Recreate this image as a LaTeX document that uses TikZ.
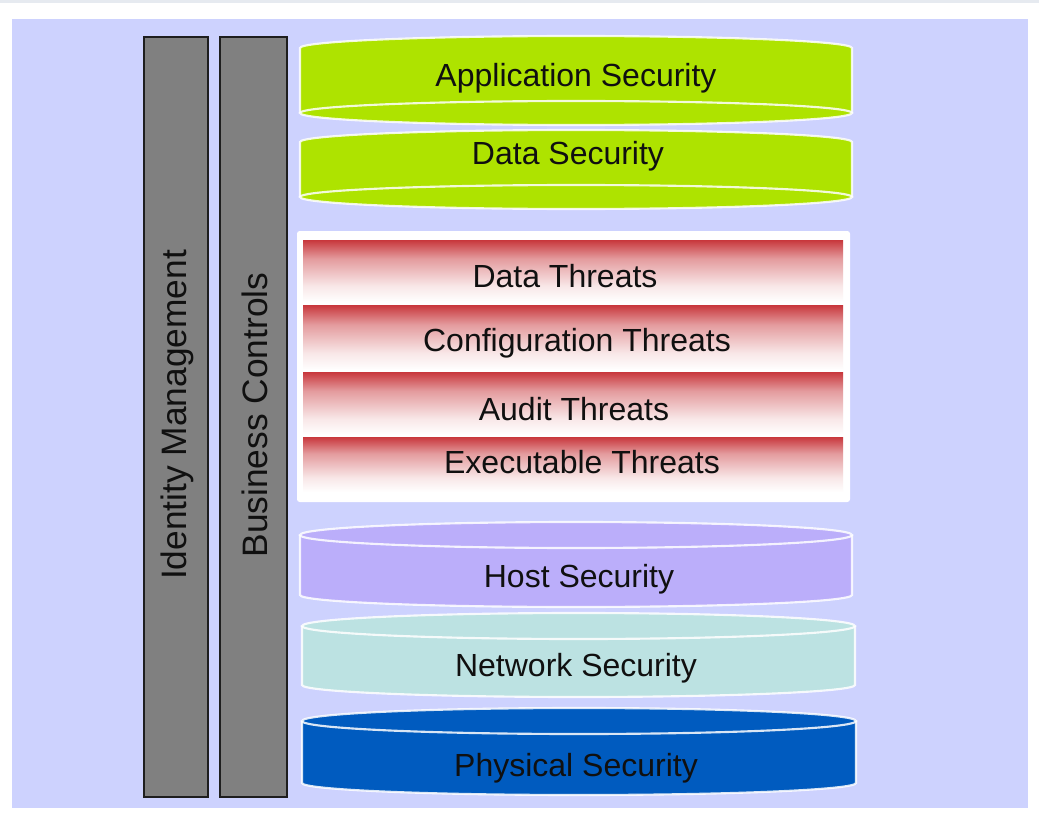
\documentclass[tikz,border=0pt]{standalone}
\usepackage{fontspec}
\setmainfont{Liberation Sans}
\definecolor{lav}{HTML}{CDD2FE}
\definecolor{topstrip}{HTML}{E6EAF0}
\definecolor{grn}{HTML}{AEE300}
\definecolor{hostc}{HTML}{BBAEFA}
\definecolor{netc}{HTML}{BCE2E2}
\definecolor{physc}{HTML}{005BBF}
\definecolor{barc}{HTML}{808080}
\definecolor{barline}{HTML}{1E1E1E}
\definecolor{thr}{RGB}{200,55,60}
\colorlet{thrA}{thr!12!white}
\colorlet{thrB}{thr!50!white}
\definecolor{txt}{HTML}{101010}
\pgfdeclareverticalshading{threatshade}{100bp}{color(0bp)=(white); color(25bp)=(white); color(38bp)=(thrA); color(60bp)=(thrB); color(75bp)=(thr); color(100bp)=(thr)}
% cylinder seen from below: #1 colour, #2 left, #3 right, #4 top centre y, #5 bottom centre y
\newcommand\cylbelow[5]{%
  \pgfmathsetmacro\crx{(#3-#2)/2}%
  \fill[#1] (#2,#4) arc[start angle=180,end angle=360,x radius=\crx,y radius=12] -- (#3,#5) arc[start angle=0,end angle=180,x radius=\crx,y radius=12] -- cycle;
  \draw[cyledge] (#2,#5) -- (#2,#4) arc[start angle=180,end angle=360,x radius=\crx,y radius=12] -- (#3,#5);
  \draw[cyledge] ({(#2+#3)/2},#5) ellipse[x radius=\crx,y radius=12];
}
% cylinder seen from above
\newcommand\cylabove[5]{%
  \pgfmathsetmacro\crx{(#3-#2)/2}%
  \fill[#1] (#2,#4) arc[start angle=180,end angle=360,x radius=\crx,y radius=13] -- (#3,#5) arc[start angle=0,end angle=180,x radius=\crx,y radius=12] -- cycle;
  \draw[cyledge] (#3,#4) -- (#3,#5) arc[start angle=0,end angle=180,x radius=\crx,y radius=12] -- (#2,#4);
  \draw[cyledge] ({(#2+#3)/2},#4) ellipse[x radius=\crx,y radius=13];
}
\tikzset{
  cyledge/.style={draw=white, line width=1.6pt, opacity=0.85},
  lbl/.style={text=txt, font=\fontsize{24}{28}\selectfont, inner sep=0pt},
  vlbl/.style={text=txt, font=\fontsize{26.5}{30}\selectfont, inner sep=0pt, rotate=90},
  barbox/.style={fill=barc, draw=barline, line width=1.3pt},
  band/.style={shading=threatshade}
}
\begin{document}
\begin{tikzpicture}[x=0.75pt,y=-0.75pt]
\useasboundingbox (0,0) rectangle (1039,817);
\fill[white] (0,0) rectangle (1039,817);
\fill[topstrip] (0,0) rectangle (1039,3);
\fill[lav] (12,19) rectangle (1028,808);

% vertical bars
\path[barbox] (144,37) rectangle (208,797);
\path[barbox] (220,37) rectangle (287,797);
\node[vlbl] (idm) at (177,415) {Identity Management};
\node[vlbl] (biz) at (255,415) {Business Controls};

% upper cylinders
\cylbelow{grn}{300}{852}{48}{113}
\cylbelow{grn}{300}{852}{142}{197}
\node[lbl] (app) at (576,78) {Application Security};
\node[lbl] (data) at (568,156) {Data Security};

% threats
\fill[white, rounded corners=2] (297,231) rectangle (850,502);
\shade[band] (303,240) rectangle (843,302);
\shade[band] (303,305) rectangle (843,370);
\shade[band] (303,372) rectangle (843,435);
\shade[band] (303,437) rectangle (843,492);
\node[lbl] (dthr) at (565,276) {Data Threats};
\node[lbl] (cthr) at (577,343) {Configuration Threats};
\node[lbl] (athr) at (574,409) {Audit Threats};
\node[lbl] (ethr) at (582,462) {Executable Threats};

% lower cylinders
\cylabove{hostc}{300}{852}{535}{595}
\cylabove{netc}{302}{855}{626}{685}
\cylabove{physc}{302}{856}{721}{783}
\node[lbl] (host) at (579,579) {Host Security};
\node[lbl] (net) at (576,668) {Network Security};
\node[lbl] (phys) at (576,768) {Physical Security};
\end{tikzpicture}
\end{document}
